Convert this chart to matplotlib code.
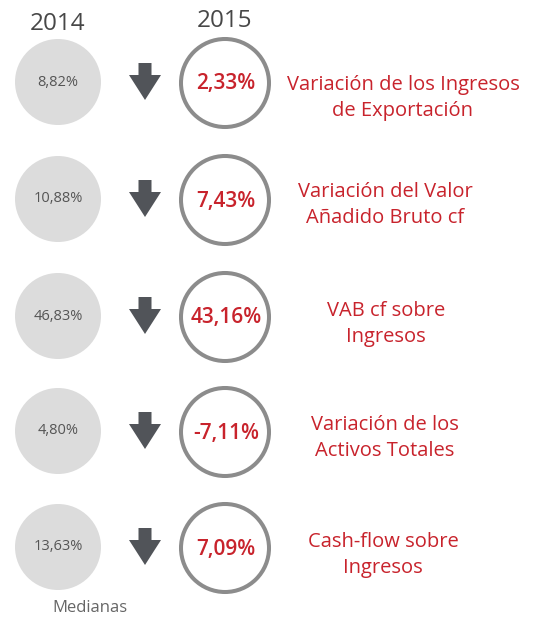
import matplotlib
matplotlib.use("Agg")
import matplotlib.pyplot as plt
from matplotlib.patches import Circle, Polygon

years = ["2014", "2015"]
values_2014 = ["8,82%", "10,88%", "46,83%", "4,80%", "13,63%"]
values_2015 = ["2,33%", "7,43%", "43,16%", "-7,11%", "7,09%"]
labels = [
    "Variación de los Ingresos\nde Exportación",
    "Variación del Valor\nAñadido Bruto cf",
    "VAB cf sobre\nIngresos",
    "Variación de los\nActivos Totales",
    "Cash-flow sobre\nIngresos",
]
footer = "Medianas"

W, H = 534, 619
fig = plt.figure(figsize=(W / 100, H / 100), dpi=100)
ax = fig.add_axes([0, 0, 1, 1])
ax.set_xlim(0, W)
ax.set_ylim(H, 0)
ax.axis("off")

FONT2 = ["Open Sans", "DejaVu Sans"]
RED = "#c8232c"
DARK = "#474747"

row_y = [82, 199, 316, 431, 547]
label_x = [403, 385, 386, 385, 383]
label_y = [98, 205, 324, 438, 555]
x_old, x_arrow, x_new = 58, 145, 225

ax.text(x_old, 24, years[0], ha="center", va="center", fontsize=17.5,
        color=DARK, family=FONT2)
ax.text(x_new, 21, years[1], ha="center", va="center", fontsize=17.5,
        color=DARK, family=FONT2)

for i, y in enumerate(row_y):
    ax.add_patch(Circle((x_old, y), 43, facecolor="#dcdcdc", edgecolor="none"))
    ax.text(x_old, y, values_2014[i], ha="center", va="center", fontsize=10.5,
            color="#555555", family=FONT2)
    # arrow
    hw, sw = 16, 6.5
    top, mid, tip = y - 19, y - 7, y + 18
    ax.add_patch(Polygon([
        (x_arrow - sw, top), (x_arrow + sw, top), (x_arrow + sw, mid),
        (x_arrow + hw, mid), (x_arrow, tip), (x_arrow - hw, mid),
        (x_arrow - sw, mid)], closed=True, facecolor="#515459",
        edgecolor="none"))
    ax.add_patch(Circle((x_new, y + 1), 44, facecolor="white",
                        edgecolor="#8c8c8c", linewidth=2.9))
    ax.text(x_new + 1, y + 2, values_2015[i], ha="center", va="center",
            fontsize=15, fontweight="semibold", color=RED, family=FONT2)
    ax.text(label_x[i], label_y[i], labels[i], ha="center", va="center",
            fontsize=14.5, color=RED, family=FONT2, linespacing=1.42)

ax.text(90, 608, footer, ha="center", va="center", fontsize=12,
        color="#666666", family=FONT2)

fig.savefig("out.png", dpi=100)
